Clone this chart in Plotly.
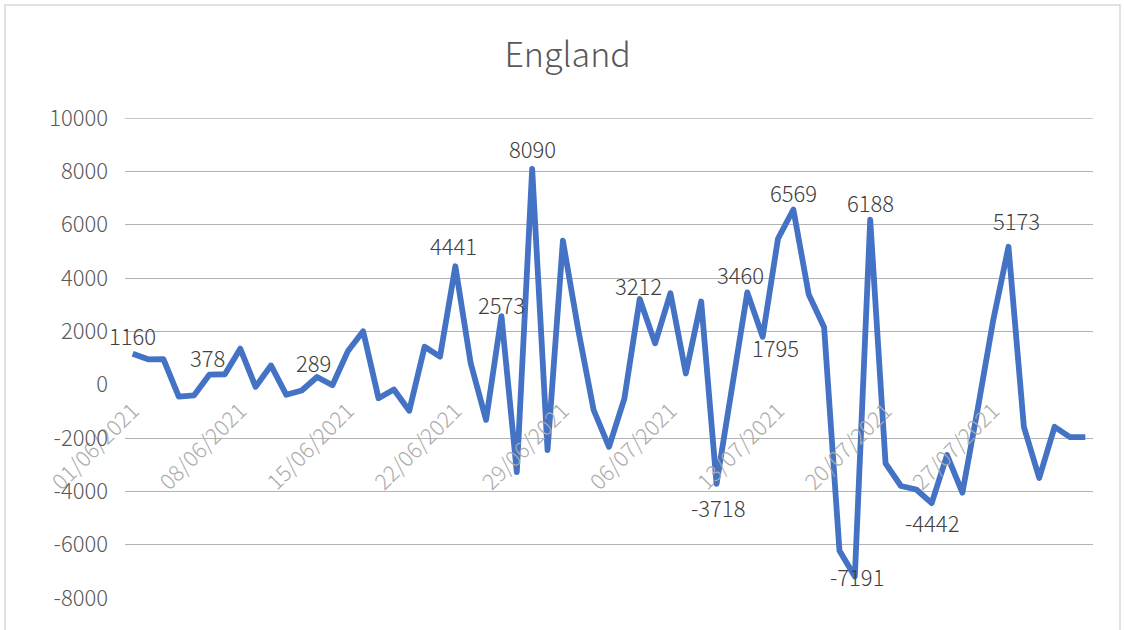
import plotly.graph_objects as go
import pandas as pd

dates = [d.strftime("%d/%m/%Y") for d in pd.date_range("2021-06-01", "2021-08-02", freq="D")]

values = [1160, 950, 960, -450, -400, 378, 390, 1350, -80, 720,
          -380, -220, 289, -20, 1250, 2000, -510, -180, -980, 1420,
          1050, 4441, 800, -1320, 2573, -3280, 8090, -2450, 5400, 2050,
          -950, -2330, -520, 3212, 1550, 3430, 420, 3120, -3718, -100,
          3460, 1795, 5480, 6569, 3380, 2150, -6230, -7191, 6188, -2950,
          -3800, -3930, -4442, -2640, -4050, -900, 2400, 5173, -1580, -3500,
          -1580, -1970, -1970]

# indices of points carrying a data label
label_idx = [0, 5, 12, 21, 24, 26, 33, 38, 40, 41, 43, 47, 48, 52, 57]

tick_labels = dates[::7]
y_ticks = list(range(-8000, 10001, 2000))
y_tick_text = [str(v) for v in y_ticks]
y_max = y_ticks[-1]
y_min = y_ticks[0]

# label placement (pixel offsets dx, dy from the point; style only)
label_offsets = {0: (0, -19), 5: (-2, -18), 12: (-4, -15), 21: (-2, -21),
                 24: (0, -12), 26: (0, -21), 33: (-1, -14), 38: (1, 23),
                 40: (-7, -18), 41: (13, 10), 43: (0, -17), 47: (2, 0),
                 48: (0, -18), 52: (0, 19), 57: (8, -27)}

FONT = "Noto Sans CJK SC"
GRID = "#B3B3B3"

fig = go.Figure()
fig.add_trace(go.Scatter(
    x=dates, y=values, mode="lines",
    line=dict(color="#4472C4", width=5.8),
    hoverinfo="skip", showlegend=False,
))

annotations = []
for i in label_idx:
    dx, dy = label_offsets[i]
    annotations.append(dict(
        x=dates[i], y=values[i], xref="x", yref="y", text=str(values[i]),
        showarrow=False, xanchor="center", yanchor="middle",
        xshift=dx, yshift=-dy,
        font=dict(family=FONT, size=22, color="#404040", weight=300)))

fig.update_layout(
    width=1124, height=630,
    margin=dict(l=125, r=31, t=118, b=32),
    paper_bgcolor="white", plot_bgcolor="white",
    title=dict(text="England", x=0.505, xref="container", xanchor="center",
               y=1 - 55 / 630, yref="container", yanchor="middle",
               font=dict(family=FONT, size=34, color="#595959", weight=300)),
    xaxis=dict(type="category", range=[-0.5, len(values) - 0.5],
               tickvals=tick_labels, ticktext=tick_labels, tickangle=-45,
               showgrid=False, showline=False, zeroline=False, ticks="",
               anchor="free", position=-y_min / (y_max - y_min), ticklabelstandoff=8,
               tickfont=dict(family=FONT, size=22, color="#ABABAB", weight=300)),
    yaxis=dict(range=[y_min, y_max], tickvals=y_ticks, ticktext=y_tick_text,
               showgrid=True, gridcolor=GRID, gridwidth=1.3, zeroline=True,
               zerolinecolor="white", zerolinewidth=3, showline=False,
               ticks="", ticklabelstandoff=16,
               tickfont=dict(family=FONT, size=22, color="#595959", weight=300)),
    annotations=annotations,
    shapes=[
        dict(type="rect", xref="paper", yref="paper",
             x0=(5 - 125) / 968, x1=(1120 - 125) / 968,
             y0=(598 - 640) / 480, y1=(598 - 5) / 480,
             line=dict(color="#D9D9D9", width=1.5), layer="below"),
        dict(type="line", xref="paper", yref="y", x0=0, x1=1, y0=y_max, y1=y_max,
             line=dict(color=GRID, width=1.3), layer="below"),
    ],
)

fig.write_html("out.html", post_script=(
    "document.querySelectorAll('.scatterlayer path.js-line')"
    ".forEach(function(p){p.style.strokeLinejoin='round';});"))
